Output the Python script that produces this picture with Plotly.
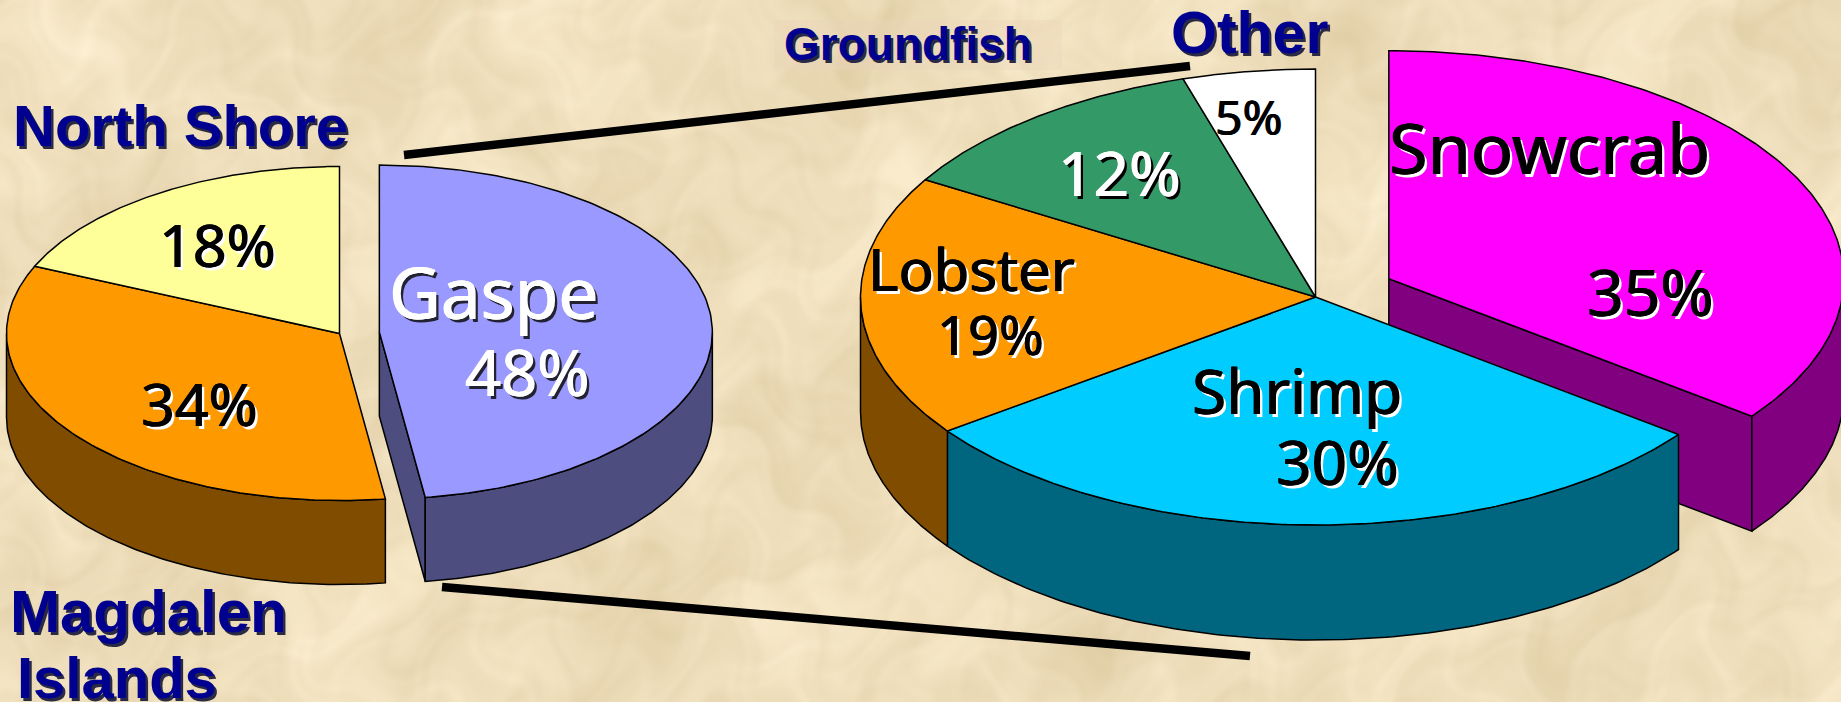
import base64
import struct
import zlib

import numpy as np
import plotly.graph_objects as go

# ---- data ----
left_labels = ["Gaspe", "Magdalen Islands", "North Shore"]
left_values = [47.8, 33.8, 18.4]
right_labels = ["Snowcrab", "Shrimp", "Lobster", "Groundfish", "Other"]
right_values = [35.3, 29.7, 18.6, 11.7, 4.7]

# ---- styles ----
left_top = ["#9999FF", "#FF9900", "#FFFF99"]
left_side = ["#4D4D80", "#7F4C00", "#80804D"]
right_top = ["#FF00FF", "#00CCFF", "#FF9900", "#339966", "#FFFFFF"]
right_side = ["#800080", "#006680", "#7F4C00", "#1A4D33", "#808080"]
BG = "#EFDFBA"
NAVY = "#000090"
OUTLINE = 1.5


def paper_texture():
    """Soft blotchy parchment built from a fixed set of crossed sine waves."""
    w, h = 614, 234
    yy, xx = np.mgrid[0:h, 0:w].astype(float)
    u = xx + 11 * np.sin(yy / 17 + 0.7) + 6 * np.sin(yy / 5.3 + xx / 31)
    v = yy + 11 * np.sin(xx / 13 + 2.1) + 6 * np.sin(xx / 4.7 + yy / 29)
    waves = [(0.037, 0.049, 0.3, 1.2, 5.5), (0.083, 0.061, 1.9, 4.4, 4.0),
             (0.127, 0.173, 4.0, 0.6, 3.0), (0.231, 0.197, 2.2, 3.1, 2.4),
             (0.353, 0.419, 5.1, 1.7, 2.0), (0.587, 0.523, 0.9, 2.6, 1.4)]
    n = sum(a * np.sin(fx * u + p) * np.sin(fy * v + q) for fx, fy, p, q, a in waves)
    base = np.array([239, 223, 188], float)
    tint = np.array([0.9, 1.05, 1.4])
    img = np.clip(base[None, None, :] + n[:, :, None] * tint, 0, 255).astype(np.uint8)
    raw = b"".join(b"\x00" + img[r].tobytes() for r in range(h))

    def chunk(tag, data):
        return struct.pack(">I", len(data)) + tag + data + struct.pack(">I", zlib.crc32(tag + data))

    png = (b"\x89PNG\r\n\x1a\n" + chunk(b"IHDR", struct.pack(">IIBBBBB", w, h, 8, 2, 0, 0, 0))
           + chunk(b"IDAT", zlib.compress(raw, 9)) + chunk(b"IEND", b""))
    return "data:image/png;base64," + base64.b64encode(png).decode()


fig = go.Figure()


def poly(xs, ys, color):
    fig.add_trace(go.Scatter(
        x=xs, y=ys, mode="lines", fill="toself", fillcolor=color,
        line=dict(color="black", width=OUTLINE), hoverinfo="skip", showlegend=False))


def pie3d(values, tops, sides, cx, cy, rx, ry, depth, explode):
    total = sum(values)
    edges = np.cumsum([0] + list(values)) / total * 2 * np.pi
    order = sorted(range(len(values)), key=lambda i: 0 if explode[i] else 1)

    def origin(i):
        mid = (edges[i] + edges[i + 1]) / 2
        return cx + explode[i] * rx * np.sin(mid), cy - explode[i] * ry * np.cos(mid)

    # exploded slice first (walls, then top), remainder of the pie over it
    for group in ([i for i in order if explode[i]], [i for i in order if not explode[i]]):
        for i in group:
            a0, a1 = edges[i], edges[i + 1]
            ox, oy = origin(i)
            px = lambda a: ox + rx * np.sin(a)
            py = lambda a: oy - ry * np.cos(a)
            if explode[i]:
                poly([ox, px(a1), px(a1), ox, ox],
                     [oy, py(a1), py(a1) + depth, oy + depth, oy], sides[i])
            s0, s1 = max(a0, np.pi / 2), min(a1, 3 * np.pi / 2)
            if s1 > s0:
                t = np.linspace(s0, s1, 120)
                poly(np.concatenate([px(t), px(t[::-1]), px(t[:1])]),
                     np.concatenate([py(t), py(t[::-1]) + depth, py(t[:1])]), sides[i])
        for i in group:
            a0, a1 = edges[i], edges[i + 1]
            ox, oy = origin(i)
            t = np.linspace(a0, a1, 160)
            poly(np.concatenate([[ox], ox + rx * np.sin(t), [ox]]),
                 np.concatenate([[oy], oy - ry * np.cos(t), [oy]]), tops[i])


pie3d(left_values, left_top, left_side, 339.5, 333.5, 333, 167, 84, [0.12, 0, 0])
pie3d(right_values, right_top, right_side, 1315.5, 297, 455, 228, 115, [0.18, 0, 0, 0, 0])

# connector lines
for lx, ly in (([404, 1190], [155, 66]), ([442, 1250], [587, 656])):
    fig.add_trace(go.Scatter(x=lx, y=ly, mode="lines", line=dict(color="black", width=8.5),
                             hoverinfo="skip", showlegend=False))

# text: (string, x, y, size, colour, shadow css, family, weight)
SH_T = "2.5px 2.5px 0 #2A2A44"
SH_B = "0.8px 0 0 black, -0.4px 0 0 black, 3px 3px 0 white"
SH_W = "0.8px 0 0 white, -0.4px 0 0 white, 3px 3px 0 #222233"
texts = [
    ("North Shore", 180, 125, 58, NAVY, SH_T, "Liberation Sans", 700),
    ("Magdalen", 148, 611, 60, NAVY, SH_T, "Liberation Sans", 700),
    ("Islands", 117, 677, 58, NAVY, SH_T, "Liberation Sans", 700),
    ("Groundfish", 908, 44, 46, NAVY, SH_T, "Liberation Sans", 700),
    ("Other", 1249, 33, 59, NAVY, SH_T, "Liberation Sans", 700),
    ("18%", 217, 244, 59, "black", SH_B, "Noto Sans", 400),
    ("34%", 199, 403, 59, "black", SH_B, "Noto Sans", 400),
    ("Gaspe", 493, 291, 71, "white", SH_W, "Noto Sans", 400),
    ("48%", 527, 371, 63, "white", SH_W, "Noto Sans", 400),
    ("5%", 1248, 116, 48, "black", SH_B, "Noto Sans", 400),
    ("12%", 1119, 172, 62, "white", SH_W.replace("#222233", "black"), "Noto Sans", 400),
    ("Snowcrab", 1549, 147, 70, "black", SH_B, "Noto Sans", 400),
    ("35%", 1650, 291, 64, "black", SH_B, "Noto Sans", 400),
    ("Lobster", 971, 268, 58, "black", SH_B, "Noto Sans", 400),
    ("19%", 990, 334, 54, "black", SH_B, "Noto Sans", 400),
    ("Shrimp", 1297, 390, 62, "black", SH_B, "Noto Sans", 400),
    ("30%", 1337, 461, 62, "black", SH_B, "Noto Sans", 400),
]
ann = [dict(x=x, y=y, xref="x", yref="y", text=s, showarrow=False,
            xanchor="center", yanchor="middle",
            font=dict(size=size, color=col, family=fam, weight=w, shadow=sh))
       for s, x, y, size, col, sh, fam, w in texts]

fig.update_layout(
    width=1841, height=702, margin=dict(l=0, r=0, t=0, b=0),
    paper_bgcolor=BG, plot_bgcolor="rgba(0,0,0,0)", annotations=ann, showlegend=False,
    images=[dict(source=paper_texture(), xref="paper", yref="paper", x=0, y=1, sizex=1, sizey=1,
                 xanchor="left", yanchor="top", sizing="stretch", layer="below")],
    # faint lighter box behind the Groundfish label
    shapes=[dict(type="rect", x0=774, x1=1062, y0=20, y1=70, xref="x", yref="y", layer="below",
                 fillcolor="rgba(235,212,186,0.35)", line=dict(width=0))],
    xaxis=dict(range=[0, 1841], visible=False, fixedrange=True),
    yaxis=dict(range=[702, 0], visible=False, fixedrange=True),
)
fig.write_html("out.html", config={"displayModeBar": False},
               post_script="document.body.style.margin='0';document.documentElement.style.overflow='hidden';")
